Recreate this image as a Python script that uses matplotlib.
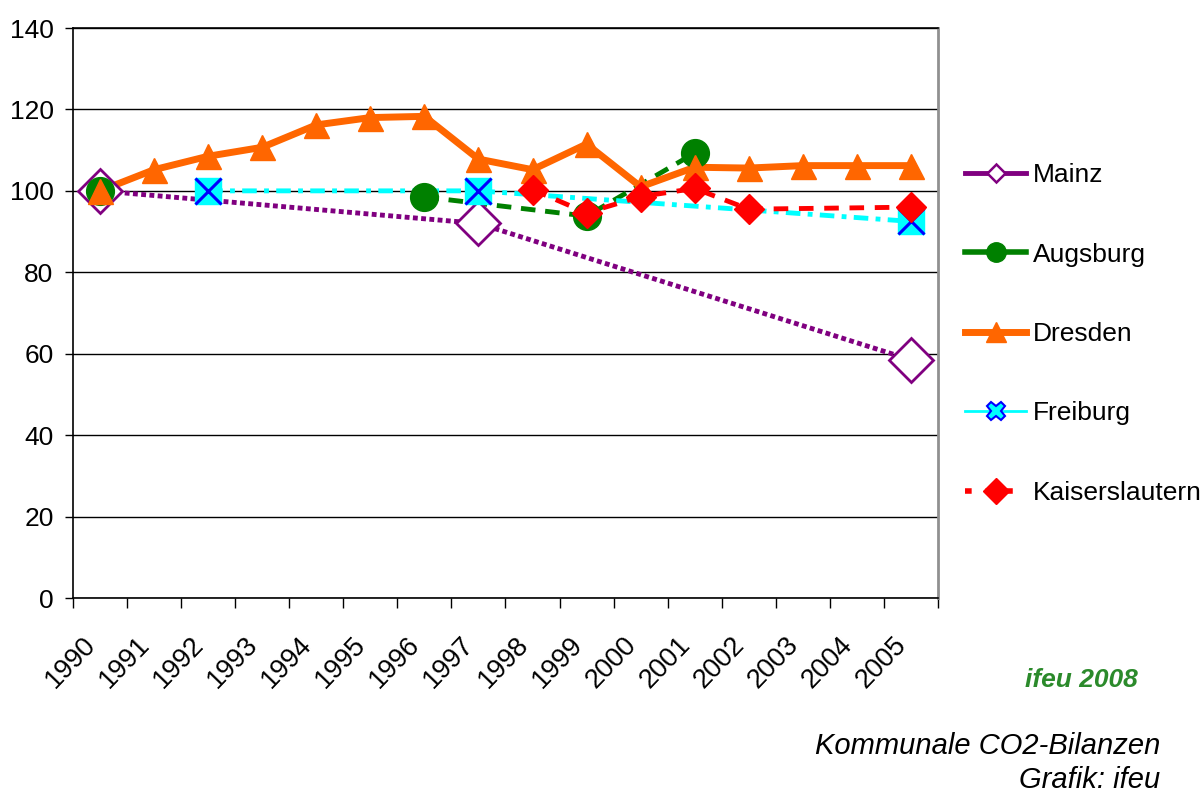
import numpy as np
import matplotlib
matplotlib.use("Agg")
import matplotlib.pyplot as plt
from matplotlib.lines import Line2D
from matplotlib.ticker import FixedLocator, NullFormatter
from matplotlib.transforms import ScaledTranslation, blended_transform_factory

plt.rcParams['font.family'] = ['Liberation Sans', 'DejaVu Sans']

# data (index 1990 = 100)
years = [str(y) for y in range(1990, 2006)]
nan = np.nan
mainz = [100, nan, nan, nan, nan, nan, nan, 92, nan, nan, nan, nan, nan, nan, nan, 58.5]
augsburg = [100, nan, nan, nan, nan, nan, 98.5, nan, nan, 93.8, nan, 109.3, nan, nan, nan, nan]
dresden = [100, 105.2, 108.5, 110.7, 116.2, 118, 118.3, 107.8, 105.2, 111.5, 101, 105.8, 105.6, 106.2, 106.2, 106.2]
freiburg = [nan, nan, 100, nan, nan, nan, nan, 100, nan, nan, nan, nan, nan, nan, nan, 92.5]
kaiserslautern = [nan, nan, nan, nan, nan, nan, nan, nan, 100.3, 94.6, 98.6, 100.6, 95.5, nan, nan, 96]

fig = plt.figure(figsize=(12.04, 7.94), dpi=100)
ax = fig.add_axes([73 / 1204, 1 - 598 / 794, (938 - 73) / 1204, (598 - 28) / 794])
x = np.arange(len(years))


def draw(vals, color, lw, ls, z, start=0, **mk):
    v = np.array(vals, dtype=float)
    m = ~np.isnan(v)
    m_line = m.copy()
    m_line[:start] = False
    ax.plot(x[m_line], v[m_line], color=color, lw=lw, linestyle=ls,
            dash_capstyle='butt', zorder=2 + z * 0.1)
    ax.plot(x[m], v[m], linestyle='none', zorder=3 + z * 0.1, **mk)


draw(mainz, '#800080', 3.5, (0, (1, 0.7)), 0,
     marker='D', markersize=22, markerfacecolor='white',
     markeredgecolor='#800080', markeredgewidth=2)
draw(augsburg, '#008000', 3.5, (0, (3, 2)), 1, start=6,
     marker='o', markersize=20, markerfacecolor='#008000', markeredgecolor='#008000')
draw(dresden, '#FF6600', 5, '-', 2,
     marker='^', markersize=18, markerfacecolor='#FF6600', markeredgecolor='#FF6600')
draw(freiburg, '#00FFFF', 3.5, (0, (3, 1.5, 1, 1.5)), 3,
     marker='s', markersize=19, markerfacecolor='#00FFFF', markeredgecolor='#00FFFF')
fv = np.array(freiburg, dtype=float)
fm = ~np.isnan(fv)
ax.plot(x[fm], fv[fm], linestyle='none', marker='x', markersize=19,
        markeredgecolor='#0000FF', markeredgewidth=2.2, zorder=3.35)
draw(kaiserslautern, '#FF0000', 3.5, (0, (3, 2.2)), 4,
     marker='D', markersize=15, markerfacecolor='#FF0000', markeredgecolor='#FF0000')

ax.set_xlim(-0.5, len(years) - 0.5)
ax.set_ylim(0, 140)
ax.set_yticks(np.arange(0, 141, 20))
ax.yaxis.grid(True, color='black', lw=1)
ax.set_axisbelow(True)

# category labels, rotated, ending just under the category centre
ax.set_xticks(x)
ax.xaxis.set_major_formatter(NullFormatter())
lab_tr = blended_transform_factory(ax.transData, ax.transAxes) + \
    ScaledTranslation(-6 / 72, -31 / 72, fig.dpi_scale_trans)
for i, yr in enumerate(years):
    ax.text(i, 0, yr, transform=lab_tr, rotation=46, ha='right', va='center',
            rotation_mode='anchor', fontsize=19.5, clip_on=False)
ax.xaxis.set_minor_locator(FixedLocator(np.arange(-0.5, len(years), 1)))
ax.tick_params(axis='x', which='major', length=0)
ax.tick_params(axis='x', which='minor', length=7.5, width=1, direction='out')
ax.tick_params(axis='y', length=6, width=1, direction='out', labelsize=19, pad=8)

for s in ['left', 'bottom', 'top']:
    ax.spines[s].set_color('black')
    ax.spines[s].set_linewidth(1.2)
ax.spines['right'].set_color('#909090')
ax.spines['right'].set_linewidth(2)

handles = [
    Line2D([], [], color='#800080', lw=3.5, marker='D', markersize=9,
           markerfacecolor='white', markeredgecolor='#800080', markeredgewidth=1.8),
    Line2D([], [], color='#008000', lw=4, marker='o', markersize=14,
           markerfacecolor='#008000', markeredgecolor='#008000'),
    Line2D([], [], color='#FF6600', lw=5, marker='^', markersize=14,
           markerfacecolor='#FF6600', markeredgecolor='#FF6600'),
    Line2D([], [], color='#00FFFF', lw=2, marker='X', markersize=13,
           markerfacecolor='#00FFFF', markeredgecolor='#0000FF', markeredgewidth=1.5),
    Line2D([], [], color='#FF0000', lw=4, linestyle=(0, (1.2, 2.5)), marker='D',
           markersize=13, markerfacecolor='#FF0000', markeredgecolor='#FF0000'),
]
labels = ['Mainz', 'Augsburg', 'Dresden', 'Freiburg', 'Kaiserslautern']
fig.legend(handles, labels, loc='center left', bbox_to_anchor=(952 / 1204, 1 - 334 / 794),
           frameon=False, fontsize=19, handlelength=2.3, handletextpad=0.25,
           labelspacing=2.1, borderpad=0)

fig.text(1081 / 1204, 1 - 680 / 794, 'ifeu 2008', color='#2B8A2B', fontsize=19,
         fontweight='bold', style='italic', ha='center', va='center')
fig.text(1160 / 1204, 1 - 746 / 794, 'Kommunale CO2-Bilanzen', fontsize=21,
         style='italic', ha='right', va='center')
fig.text(1160 / 1204, 1 - 780 / 794, 'Grafik: ifeu', fontsize=21,
         style='italic', ha='right', va='center')

fig.savefig('out.png', dpi=100)
